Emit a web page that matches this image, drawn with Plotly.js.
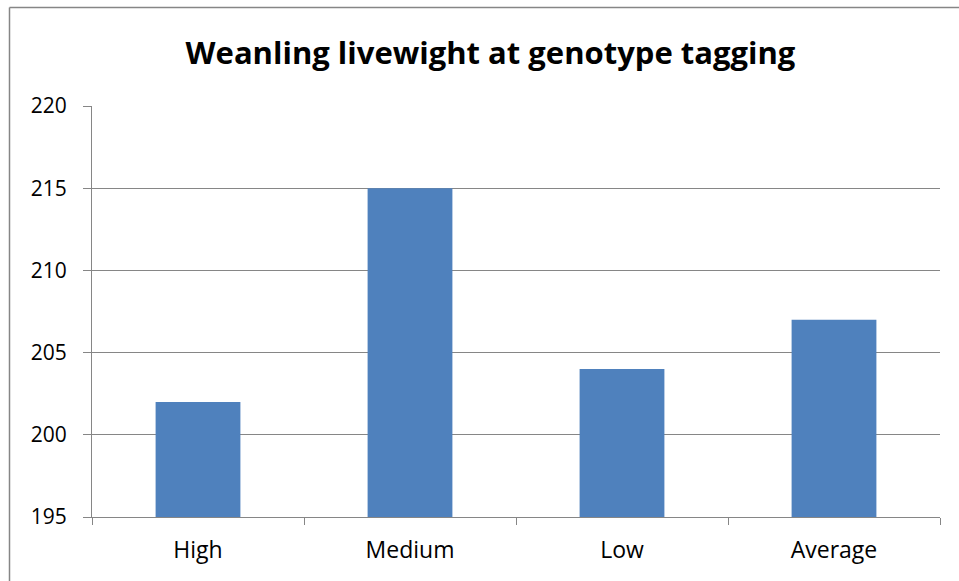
<!DOCTYPE html>
<html>
<head>
<meta charset="utf-8">
<script src="https://cdn.plot.ly/plotly-3.0.1.min.js"></script>
<style>html,body{margin:0;padding:0;background:#fff;}#chart{width:959px;height:581px;}</style>
</head>
<body>
<div id="chart"></div>
<script>
const categories = ["High", "Medium", "Low", "Average"];
const livewight = [202, 215, 204, 207];
const yTicks = [195, 200, 205, 210, 215, 220];
const chartTitle = "Weanling livewight at genotype tagging";

const L = 92, R = 19, T = 106, B = 64, W = 959, H = 581;
const pw = W - L - R, ph = H - T - B;

const trace = {
  type: "bar",
  x: categories,
  y: livewight,
  marker: { color: "#4F81BD" },
  width: 0.4,
  hoverinfo: "x+y"
};

const layout = {
  width: W, height: H,
  margin: { l: L, r: R, t: T, b: B, pad: 0 },
  paper_bgcolor: "#ffffff",
  plot_bgcolor: "#ffffff",
  font: { family: "Open Sans, sans-serif", color: "#000000", size: 20 },
  title: {
    text: "<b>" + chartTitle + "</b>",
    font: { family: "Open Sans, sans-serif", size: 31, color: "#000000" },
    x: 490.5 / W, xref: "container", xanchor: "center",
    y: 1 - 53 / H, yref: "container", yanchor: "middle"
  },
  showlegend: false,
  bargap: 0.6,
  xaxis: {
    type: "category",
    showline: true, linecolor: "#868686", linewidth: 1,
    ticks: "outside", tickson: "boundaries", ticklen: 7, tickcolor: "#868686",
    ticklabelstandoff: 12,
    tickfont: { size: 23, color: "#000000" },
    showgrid: false, zeroline: false,
    fixedrange: true
  },
  yaxis: {
    range: [195, 220],
    tickvals: yTicks,
    ticktext: yTicks.map(String),
    showline: true, linecolor: "#868686", linewidth: 1,
    ticks: "outside", ticklen: 8, tickcolor: "#868686",
    ticklabelstandoff: 12,
    showgrid: true, gridcolor: "#868686", gridwidth: 1,
    zeroline: false,
    tickfont: { size: 21, color: "#000000" },
    fixedrange: true
  },
  shapes: [
    { type: "line", xref: "paper", yref: "paper",
      x0: (9.5 - L) / pw, x1: (9.5 - L) / pw, y0: 1 + (T - 7.5) / ph, y1: -(B) / ph - 0.01,
      line: { color: "#868686", width: 1.5 } },
    { type: "line", xref: "paper", yref: "paper",
      x0: (9.5 - L) / pw, x1: 1 + R / pw + 0.01, y0: 1 + (T - 7.5) / ph, y1: 1 + (T - 7.5) / ph,
      line: { color: "#868686", width: 1.5 } }
  ]
};

Plotly.newPlot("chart", [trace], layout, { displayModeBar: false, staticPlot: true });
</script>
</body>
</html>
